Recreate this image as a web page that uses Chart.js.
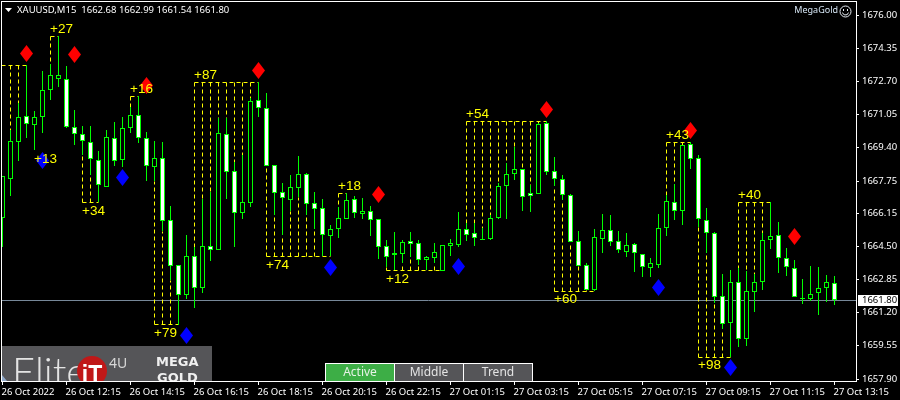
<!DOCTYPE html>
<html>
<head>
<meta charset="utf-8">
<style>html,body{margin:0;padding:0;background:#000;overflow:hidden}canvas{display:block}</style>
<script src="https://cdn.jsdelivr.net/npm/chart.js@4"></script>
</head>
<body>
<canvas id="c" width="900" height="400"></canvas>
<script>
const opens=[1665.90,1667.84,1669.68,1670.98,1670.53,1670.93,1672.27,1672.82,1672.82,1670.43,1670.08,1669.68,1668.79,1667.45,1669.88,1668.79,1670.38,1671.03,1669.88,1668.44,1668.89,1665.80,1663.57,1662.07,1664.01,1662.42,1664.51,1664.31,1670.08,1668.24,1666.15,1666.65,1671.77,1671.38,1668.54,1667.20,1666.80,1667.40,1668.09,1666.65,1666.40,1665.01,1665.36,1665.85,1666.85,1666.10,1666.25,1665.85,1664.51,1664.16,1664.11,1664.76,1664.66,1663.82,1663.92,1663.27,1664.51,1664.56,1665.36,1665.16,1664.86,1664.86,1665.90,1667.50,1668.09,1668.34,1667.15,1667.10,1670.63,1668.24,1667.84,1667.05,1664.76,1663.57,1662.32,1664.86,1665.31,1664.76,1664.21,1664.61,1664.11,1663.42,1663.57,1665.41,1666.70,1666.25,1669.58,1668.89,1665.80,1665.16,1662.03,1660.68,1662.72,1659.89,1662.22,1662.72,1664.81,1665.06,1663.92,1663.42,1661.93,1661.88,1662.17,1662.42,1662.68];
const highs=[1667.99,1670.28,1671.62,1673.51,1671.23,1673.22,1673.56,1674.96,1673.46,1671.28,1670.48,1670.48,1669.24,1670.28,1670.68,1670.93,1671.43,1671.97,1670.18,1669.73,1669.68,1666.50,1663.57,1665.06,1664.46,1666.85,1667.20,1670.88,1670.88,1668.69,1669.04,1671.87,1672.67,1672.12,1668.54,1667.64,1668.04,1668.99,1668.14,1667.20,1666.85,1665.56,1666.45,1667.15,1667.00,1666.90,1666.50,1665.85,1664.81,1665.21,1664.81,1665.21,1664.81,1664.01,1664.66,1664.56,1664.86,1666.20,1665.65,1665.65,1665.41,1666.05,1667.64,1668.64,1669.44,1668.34,1667.55,1670.63,1670.73,1668.94,1668.04,1667.10,1665.26,1663.67,1665.36,1666.10,1666.05,1665.26,1665.16,1664.66,1664.11,1663.92,1666.10,1667.05,1667.59,1669.53,1669.68,1669.04,1666.40,1665.21,1663.12,1663.32,1663.42,1663.27,1663.12,1665.16,1666.70,1665.70,1664.41,1663.82,1662.87,1663.52,1663.47,1663.07,1662.99];
const lows=[1664.46,1667.00,1668.74,1669.88,1669.29,1670.13,1671.77,1672.42,1670.38,1669.53,1669.04,1668.04,1666.70,1667.45,1668.49,1668.44,1670.13,1669.63,1667.74,1667.74,1665.26,1662.82,1660.58,1661.88,1661.43,1662.17,1663.77,1664.31,1666.85,1664.46,1665.85,1666.45,1670.93,1668.49,1666.05,1665.06,1666.25,1666.95,1666.05,1665.36,1664.01,1664.01,1664.91,1665.85,1665.90,1665.85,1665.01,1663.87,1663.47,1663.32,1663.67,1663.96,1663.57,1663.32,1663.67,1663.27,1664.01,1664.46,1664.76,1664.51,1664.81,1664.81,1665.85,1665.85,1667.79,1666.25,1666.20,1667.10,1668.04,1667.50,1666.80,1664.71,1663.52,1662.32,1662.27,1664.16,1664.51,1664.16,1663.96,1663.22,1662.97,1662.97,1663.42,1665.01,1665.80,1665.56,1668.34,1665.46,1664.16,1661.68,1660.39,1658.99,1659.49,1659.54,1661.23,1662.32,1664.36,1663.17,1663.02,1661.98,1661.63,1661.78,1661.08,1661.73,1661.54];
const closes=[1667.99,1669.73,1670.93,1670.58,1670.93,1672.27,1673.02,1673.02,1670.43,1670.08,1669.73,1668.84,1667.54,1669.93,1668.74,1670.38,1671.03,1669.88,1668.49,1668.89,1665.75,1663.52,1662.07,1664.01,1662.42,1664.51,1664.31,1670.13,1668.19,1666.15,1666.70,1671.72,1671.38,1668.49,1667.15,1666.90,1667.45,1668.09,1666.60,1666.35,1665.06,1665.36,1665.90,1666.80,1666.15,1666.25,1665.80,1664.46,1663.96,1664.06,1664.71,1664.61,1663.82,1663.96,1664.21,1664.56,1664.66,1665.36,1665.06,1664.91,1664.81,1665.90,1667.50,1668.09,1668.34,1666.95,1667.00,1670.58,1668.19,1667.84,1667.05,1664.71,1663.52,1662.32,1664.96,1665.31,1664.71,1664.31,1664.56,1664.16,1663.47,1663.67,1665.41,1666.75,1666.25,1669.53,1668.84,1665.85,1665.16,1661.98,1660.63,1662.72,1659.89,1662.27,1662.72,1664.81,1665.01,1663.92,1663.47,1661.98,1661.88,1662.12,1662.42,1662.72,1661.80];

const redIdx=[3,9,18,32,47,68,86,99];
const redPrice=[1674.11,1674.06,1672.52,1673.27,1667.10,1671.33,1670.28,1665.01];
const blueIdx=[5,15,23,41,57,82,91];
const bluePrice=[1668.79,1667.94,1660.09,1663.47,1663.52,1662.47,1658.49];

const boxLineFrom=[-1,6,10,16,19,24,33,42,48,58,69,83,87,92];
const boxFirstDash=[1,6,10,16,19,24,33,42,48,58,69,83,87,92];
const boxLineTo=[3,7,12,17,22,32,41,43,55,68,74,86,91,96];
const boxLevel=[1673.51,1674.96,1666.70,1671.97,1660.60,1672.67,1664.01,1667.15,1663.32,1670.73,1662.27,1669.68,1658.99,1666.70];
const boxText=['+13','+27','+34','+16','+79','+87','+74','+18','+12','+54','+60','+43','+98','+40'];
const boxTextBar=[4,6,10,16,19,24,33,42,48,58,69,83,87,92];
const boxTextPrice=[1668.89,1675.35,1666.30,1672.37,1660.24,1673.07,1663.62,1667.55,1662.92,1671.13,1661.93,1670.08,1658.64,1667.10];

const yTickValues=[1676.00,1674.35,1672.70,1671.05,1669.40,1667.75,1666.15,1664.50,1662.85,1661.20,1659.55,1657.90];
const xTickLabels=['26 Oct 2022','26 Oct 12:15','26 Oct 14:15','26 Oct 16:15','26 Oct 18:15','26 Oct 20:15','26 Oct 22:15','27 Oct 01:15','27 Oct 03:15','27 Oct 05:15','27 Oct 07:15','27 Oct 09:15','27 Oct 11:15','27 Oct 13:15'];
const xTickBars=[0,8,16,24,32,40,48,56,64,72,80,88,96,104];
const lastPrice=1661.80;
const headerText='XAUUSD,M15  1662.68 1662.99 1661.54 1661.80';
const tabs=['Active','Middle','Trend'];

const FONT='"Noto Sans"';
const GREEN='#00ff00';

function diamond(color){
  const c=document.createElement('canvas');c.width=13;c.height=17;
  const g=c.getContext('2d');g.fillStyle=color;g.beginPath();
  g.moveTo(6.5,0);g.lineTo(13,8.5);g.lineTo(6.5,17);g.lineTo(0,8.5);g.closePath();g.fill();
  return c;
}

const barIdx=opens.map((_,i)=>i);
const datasets=[];
datasets.push({type:'bar',label:'body',order:0,grouped:false,barThickness:5,inflateAmount:0,borderSkipped:false,borderWidth:1,
  borderColor:GREEN,
  backgroundColor:barIdx.map(i=>closes[i]<opens[i]?'#ffffff':'#000000'),
  data:barIdx.map(i=>({x:i,y:[opens[i],closes[i]]}))});
datasets.push({type:'bar',label:'wick',order:1,grouped:false,barThickness:1,inflateAmount:0,borderWidth:0,backgroundColor:GREEN,
  data:barIdx.map(i=>({x:i,y:[lows[i],highs[i]]}))});
datasets.push({type:'line',label:'sell',order:2,showLine:false,pointStyle:diamond('#ff0000'),pointRadius:8,
  data:redIdx.map((k,i)=>({x:k,y:redPrice[i]}))});
datasets.push({type:'line',label:'buy',order:2,showLine:false,pointStyle:diamond('#0000ff'),pointRadius:8,
  data:blueIdx.map((k,i)=>({x:k,y:bluePrice[i]}))});
function dash(pts){
  datasets.push({type:'line',order:3,borderColor:'#ffff00',borderWidth:1,borderDash:[4,3],pointRadius:0,tension:0,fill:false,data:pts});
}
boxLevel.forEach((lv,b)=>{
  dash([{x:boxLineFrom[b],y:lv},{x:boxLineTo[b],y:lv}]);
  for(let k=boxFirstDash[b];k<boxLineTo[b];k++){
    const end=lv>highs[k]?highs[k]:lows[k];
    dash([{x:k,y:lv},{x:k,y:end}]);
  }
});
datasets.push({type:'line',label:'last',order:4,borderColor:'#778899',borderWidth:1,pointRadius:0,
  data:[{x:-1,y:lastPrice},{x:108,y:lastPrice}]});

const chrome={
  id:'chrome',
  beforeDatasetDraw(chart,a){
    const ds=chart.data.datasets[a.index];
    if(ds.type==='line'){chart.ctx.save();chart.ctx.translate(0,0.5);}
  },
  afterDatasetDraw(chart,a){
    const ds=chart.data.datasets[a.index];
    if(ds.type==='line'){chart.ctx.restore();}
  },
  afterDraw(chart){
    const g=chart.ctx,X=chart.scales.x,Y=chart.scales.y;
    g.save();
    g.fillStyle='#fff';
    g.fillRect(1,1,855,1);
    g.fillRect(1,1,1,380);
    // box labels
    g.textBaseline='middle';g.textAlign='left';
    g.font='13.5px "Liberation Sans"';
    g.fillStyle='#ffff00';
    boxText.forEach((t,i)=>g.fillText(t,X.getPixelForValue(boxTextBar[i])-0.5,Y.getPixelForValue(boxTextPrice[i])+1));
    // header
    g.fillStyle='#fff';
    g.beginPath();g.moveTo(5,8);g.lineTo(12,8);g.lineTo(8.5,12);g.closePath();g.fill();
    g.font='9.5px '+FONT;
    g.fillText(headerText,17,10);
    // MegaGold + smiley
    g.fillStyle='#d6e6f5';
    g.textAlign='right';
    g.font='9px '+FONT;
    g.fillText('MegaGold',838,10.5);
    g.strokeStyle='#e8eef5';g.lineWidth=1;
    g.beginPath();g.arc(845.5,11.5,5.5,0,Math.PI*2);g.stroke();
    g.beginPath();g.arc(845.5,12,3,0.2,Math.PI-0.2);g.stroke();
    g.fillStyle='#e8eef5';g.fillRect(843,9,1,2);g.fillRect(847,9,1,2);
    // last price tag
    const ly=Math.round(Y.getPixelForValue(lastPrice));
    g.fillStyle='#fff';g.fillRect(858,ly-5,40,11);
    g.fillStyle='#000';g.textAlign='left';
    g.font='9.5px '+FONT;
    g.fillText(lastPrice.toFixed(2),862,ly+0.5);
    // logo panel
    g.save();
    g.beginPath();g.rect(2,346,210,35);g.clip();
    g.fillStyle='#555558';g.fillRect(2,346,210,35);
    g.fillStyle='#8fa8c8';g.beginPath();g.moveTo(2,375);g.lineTo(7,381);g.lineTo(2,381);g.closePath();g.fill();
    g.fillStyle='#e4e4e4';g.textBaseline='alphabetic';g.textAlign='left';
    g.font='300 40px Lato';
    g.fillText('Elite',12,386);
    g.fillStyle='#c01818';g.beginPath();g.arc(92,371,15,0,Math.PI*2);g.fill();
    g.save();g.translate(92,384);g.scale(1,1.2);
    g.fillStyle='#fff';g.font='bold 23px "Liberation Sans"';g.textAlign='center';
    g.fillText('iT',0,0);
    g.restore();
    g.fillStyle='#d8d8d8';g.font='14px "Noto Sans"';g.textAlign='left';
    g.fillText('4U',109,368);
    g.fillStyle='#f0f0f0';g.font='bold 13px "DejaVu Sans"';
    g.fillText('MEGA',156,366);
    g.fillText('GOLD',157,382);
    g.restore();
    // tabs
    const tabX=[326,395,464],tabW=68;
    tabs.forEach((t,i)=>{
      g.fillStyle='#fff';g.fillRect(tabX[i]-1,363,tabW+2,18);
      g.fillStyle=i===0?'#3dae46':'#555558';g.fillRect(tabX[i],364,tabW,17);
      g.fillStyle=i===0?'#e6f2e6':'#e4e4e4';
      g.textAlign='center';g.textBaseline='middle';g.font='12px '+FONT;
      g.fillText(t,tabX[i]+tabW/2,373);
    });
    g.restore();
  }
};

new Chart(document.getElementById('c'),{
  type:'bar',
  data:{datasets},
  plugins:[chrome],
  options:{
    responsive:false,animation:false,devicePixelRatio:1,
    layout:{autoPadding:false,padding:{left:1,top:1,right:0,bottom:0}},
    plugins:{legend:{display:false},tooltip:{enabled:false},title:{display:false}},
    scales:{
      x:{type:'linear',min:-0.1875,max:106.6875,offset:false,
        grid:{display:true,drawOnChartArea:false,drawTicks:true,tickLength:4,color:'#fff',offset:false},
        border:{color:'#fff',width:1},
        afterBuildTicks(s){s.ticks=xTickBars.map(v=>({value:v}));},
        afterFit(s){s.height=19;s.paddingLeft=s.paddingRight=s.paddingTop=s.paddingBottom=0;},
        ticks:{autoSkip:false,maxRotation:0,minRotation:0,align:'start',padding:2,color:'#fff',labelOffset:-1,
          font:{family:FONT,size:9.5},includeBounds:false,
          callback:v=>xTickLabels[xTickBars.indexOf(v)]}
      },
      y:{type:'linear',position:'right',min:1657.784,max:1676.681,
        grid:{display:true,drawOnChartArea:false,drawTicks:true,tickLength:3,color:'#fff'},
        border:{color:'#fff',width:1},
        afterBuildTicks(s){
          s.ticks=yTickValues.map(v=>({value:v}));
          if(!s._rounded){const f=s.getPixelForValue;s.getPixelForValue=function(v,i){return Math.round(f.call(this,v,i));};s._rounded=true;}
        },
        afterFit(s){s.width=44;s.paddingLeft=s.paddingRight=s.paddingTop=s.paddingBottom=0;},
        ticks:{autoSkip:false,padding:3,color:'#fff',font:{family:FONT,size:9.5},includeBounds:false,
          callback:v=>v.toFixed(2)}
      }
    }
  }
});
</script>
</body>
</html>
